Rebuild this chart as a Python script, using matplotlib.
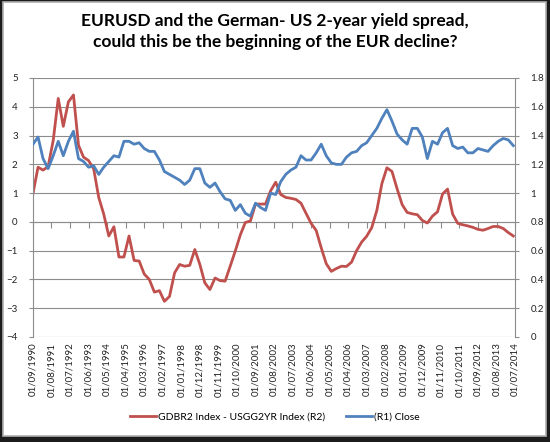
import numpy as np
import pandas as pd
import matplotlib
matplotlib.use("Agg")
import matplotlib.pyplot as plt
from matplotlib.patches import Rectangle

plt.rcParams['font.family'] = ['Lato', 'DejaVu Sans']

# quarterly observations, Sep 1990 .. Jun 2014
dates = pd.date_range(start='1990-09-01', periods=96, freq='3MS')

# GDBR2 Index - USGG2YR Index (left axis)
spread = [
    0.99, 1.90, 1.80, 1.92, 2.83, 4.29, 3.32, 4.17, 4.41, 2.66, 2.25, 2.13,
    1.84, 0.85, 0.27, -0.49, -0.17, -1.22, -1.22, -0.49, -1.34, -1.36, -1.81, -2.00,
    -2.44, -2.39, -2.76, -2.59, -1.77, -1.48, -1.54, -1.51, -0.96, -1.48, -2.12, -2.35,
    -1.95, -2.04, -2.06, -1.54, -1.01, -0.45, -0.02, 0.03, 0.62, 0.62, 0.62, 1.08,
    1.38, 0.95, 0.85, 0.82, 0.78, 0.65, 0.30, -0.05, -0.30, -0.90, -1.45, -1.72,
    -1.62, -1.54, -1.55, -1.40, -1.00, -0.70, -0.50, -0.20, 0.40, 1.33, 1.88, 1.75,
    1.15, 0.60, 0.33, 0.28, 0.25, 0.05, -0.04, 0.20, 0.35, 0.97, 1.14, 0.27,
    -0.05, -0.10, -0.14, -0.19, -0.26, -0.29, -0.23, -0.16, -0.16, -0.23, -0.37, -0.49,
]

# EURUSD close (right axis)
close = [
    1.34, 1.39, 1.24, 1.17, 1.26, 1.36, 1.26, 1.36, 1.43, 1.24, 1.22, 1.18,
    1.19, 1.13, 1.18, 1.22, 1.26, 1.25, 1.36, 1.36, 1.34, 1.35, 1.31, 1.29,
    1.29, 1.23, 1.15, 1.13, 1.11, 1.09, 1.06, 1.09, 1.17, 1.17, 1.07, 1.04,
    1.07, 1.01, 0.96, 0.95, 0.88, 0.92, 0.86, 0.84, 0.93, 0.90, 0.88, 1.00,
    0.99, 1.08, 1.13, 1.16, 1.18, 1.26, 1.23, 1.23, 1.28, 1.34, 1.26, 1.21,
    1.20, 1.20, 1.25, 1.28, 1.29, 1.33, 1.35, 1.40, 1.45, 1.52, 1.58, 1.50,
    1.41, 1.37, 1.34, 1.45, 1.45, 1.39, 1.24, 1.36, 1.34, 1.42, 1.45, 1.33,
    1.31, 1.32, 1.28, 1.28, 1.31, 1.30, 1.29, 1.33, 1.36, 1.38, 1.37, 1.33,
]

tick_labels = [
    '01/09/1990', '01/08/1991', '01/07/1992', '01/06/1993', '01/05/1994',
    '01/04/1995', '01/03/1996', '01/02/1997', '01/01/1998', '01/12/1998',
    '01/11/1999', '01/10/2000', '01/09/2001', '01/08/2002', '01/07/2003',
    '01/06/2004', '01/05/2005', '01/04/2006', '01/03/2007', '01/02/2008',
    '01/01/2009', '01/12/2009', '01/11/2010', '01/10/2011', '01/09/2012',
    '01/08/2013', '01/07/2014',
]
tick_dates = pd.to_datetime(tick_labels, format='%d/%m/%Y')

red = '#C0504D'
blue = '#4F81BD'
grid_col = '#8c8c8c'

fig = plt.figure(figsize=(5.5, 4.42), dpi=100)
fig.patch.set_facecolor('#1c1c1c')
fig.patches.append(Rectangle((3 / 550, 6 / 442), 543 / 550, 434 / 442,
                             transform=fig.transFigure, facecolor='white',
                             edgecolor='#b0b0b0', linewidth=1.2, zorder=-5))

ax = fig.add_axes([33 / 550, 1 - 337 / 442, 482 / 550, 259 / 442])
ax.set_facecolor('none')
ax.plot(dates, spread, color=red, lw=2.0, label='GDBR2 Index - USGG2YR Index (R2)')
ax.set_ylim(-4, 5)
ax.set_yticks(range(-4, 6))
ax.set_xlim(tick_dates[0], tick_dates[-1])
ax.set_xticks(tick_dates)
ax.set_xticklabels(tick_labels, rotation=90, fontsize=7, color='#222222')
ax.tick_params(axis='x', length=0, pad=4)
ax.tick_params(axis='y', length=3, width=0.8, color=grid_col, labelsize=7, labelcolor='#222222', pad=8)
ax.grid(axis='y', color=grid_col, lw=0.8)
for s in ['top', 'right', 'bottom']:
    ax.spines[s].set_visible(False)
ax.spines['left'].set_color(grid_col)

# horizontal axis line with ticks crossing at zero
sec = ax.secondary_xaxis(4 / 9)
sec.set_xticks(tick_dates)
sec.tick_params(axis='x', direction='out', length=4, width=0.8, color=grid_col, labelbottom=False, labeltop=False)
sec.spines['bottom'].set_color(grid_col)
sec.spines['top'].set_visible(False)

ax2 = ax.twinx()
ax2.plot(dates, close, color=blue, lw=2.0, label='(R1) Close')
ax2.set_ylim(0, 1.8)
ax2.set_yticks(np.arange(0, 1.81, 0.2))
ax2.set_yticklabels(['0', '0.2', '0.4', '0.6', '0.8', '1', '1.2', '1.4', '1.6', '1.8'])
ax2.tick_params(axis='y', length=3, width=0.8, color=grid_col, labelsize=7, labelcolor='#222222', pad=8)
for s in ['top', 'left', 'bottom']:
    ax2.spines[s].set_visible(False)
ax2.spines['right'].set_color(grid_col)

fig.text(0.5, 0.97, 'EURUSD and the German- US 2-year yield spread,\ncould this be the beginning of the EUR decline?',
         ha='center', va='top', fontsize=12.5, fontweight='bold', linespacing=1.35)

h1, l1 = ax.get_legend_handles_labels()
h2, l2 = ax2.get_legend_handles_labels()
fig.legend(h1 + h2, l1 + l2, loc='center', bbox_to_anchor=(0.5, 1 - 417 / 442),
           ncol=2, frameon=False, fontsize=7.5, handlelength=2.5, handletextpad=0.2,
           columnspacing=2.0)

fig.savefig('out.png', dpi=100, facecolor=fig.get_facecolor())
